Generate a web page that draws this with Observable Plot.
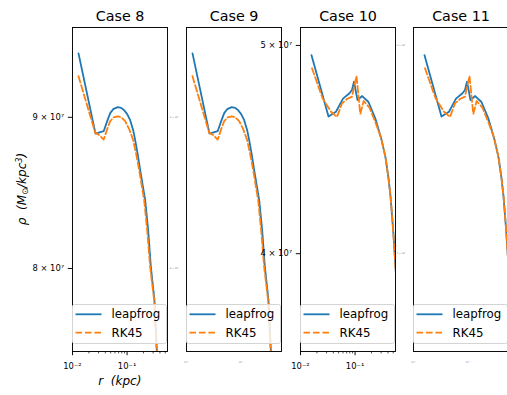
<!DOCTYPE html>
<html>
<head>
<meta charset="utf-8">
<script src="https://cdn.jsdelivr.net/npm/d3@7"></script>
<script src="https://cdn.jsdelivr.net/npm/@observablehq/plot@0.6"></script>
<style>
html, body { margin: 0; padding: 0; background: #fff; overflow: hidden; }
#fig { position: relative; width: 507px; height: 395px; overflow: hidden; font-family: "DejaVu Sans"; }
.panel { position: absolute; top: 0; width: 175px; height: 395px; }
.panel svg { max-width: none !important; }
.legend { position: absolute; top: 304px; width: 95px; height: 40px; box-sizing: border-box;
  border: 1px solid #d4d4d4; border-radius: 2.5px; background: rgba(255,255,255,0.8); }
.xlabel { position: absolute; font: italic 12px "DejaVu Sans"; white-space: pre; transform: translateX(-50%); }
.ylabel { position: absolute; font: italic 12px "DejaVu Sans"; white-space: pre; transform: translate(-50%,-50%) rotate(-90deg); }
</style>
</head>
<body>
<div id="fig"></div>
<script>
// ---- Data ----
const caseTitles = ["Case 8", "Case 9", "Case 10", "Case 11"];
const seriesNames = ["leapfrog", "RK45"];

// Case 8 (Case 9 is visually identical)
const r8Leap   = [0.01288, 0.02637, 0.03727, 0.0432, 0.04903, 0.05563, 0.06727, 0.07795, 0.0885, 0.1004, 0.114, 0.1293, 0.1407, 0.1563, 0.1738, 0.1931, 0.2146, 0.2434, 0.2729, 0.2969, 0.3176, 0.3515, 0.3792];
const rho8Leap = [9.459e7, 8.886e7, 8.903e7, 8.973e7, 9.029e7, 9.057e7, 9.071e7, 9.066e7, 9.050e7, 9.022e7, 8.980e7, 8.910e7, 8.841e7, 8.745e7, 8.637e7, 8.536e7, 8.437e7, 8.241e7, 8.008e7, 7.894e7, 7.803e7, 7.499e7, 7.302e7];
const r8Rk     = [0.01288, 0.02604, 0.03083, 0.03727, 0.0432, 0.04903, 0.05684, 0.06727, 0.07795, 0.09231, 0.1093, 0.1293, 0.1468, 0.1666, 0.1851, 0.2057, 0.2334, 0.2649, 0.2906, 0.3136, 0.3485, 0.3759];
const rho8Rk   = [9.293e7, 8.893e7, 8.876e7, 8.845e7, 8.917e7, 8.973e7, 9.000e7, 9.007e7, 9.000e7, 8.973e7, 8.917e7, 8.841e7, 8.745e7, 8.637e7, 8.536e7, 8.437e7, 8.241e7, 8.008e7, 7.894e7, 7.803e7, 7.499e7, 7.302e7];

// Case 10 (Case 11 is visually identical)
const r10Leap   = [0.01591, 0.03257, 0.04468, 0.06003, 0.07894, 0.08773, 0.09548, 0.1107, 0.1349, 0.1759, 0.2334, 0.3006, 0.3604, 0.4090, 0.4451, 0.4986, 0.5380, 0.5853];
const rho10Leap = [4.948e7, 4.633e7, 4.657e7, 4.723e7, 4.750e7, 4.767e7, 4.809e7, 4.716e7, 4.736e7, 4.706e7, 4.626e7, 4.526e7, 4.436e7, 4.337e7, 4.255e7, 4.102e7, 3.980e7, 3.846e7];
const r10Rk     = [0.01624, 0.02528, 0.03619, 0.04662, 0.05755, 0.07106, 0.08773, 0.1061, 0.1245, 0.1437, 0.1835, 0.2465, 0.2981, 0.3604, 0.4090, 0.4451, 0.4986, 0.5380, 0.5853];
const rho10Rk   = [4.879e7, 4.726e7, 4.657e7, 4.631e7, 4.699e7, 4.721e7, 4.733e7, 4.839e7, 4.646e7, 4.711e7, 4.677e7, 4.591e7, 4.530e7, 4.436e7, 4.337e7, 4.255e7, 4.102e7, 3.980e7, 3.846e7];

// Axes
const xDomain = [0.01, 0.55];
const yDomain8 = [7.499e7, 9.652e7];
const yDomain10 = [3.602e7, 5.097e7];
const xMajorTicks = [0.01, 0.1];
const xMajorLabels = ["10⁻²", "10⁻¹"];
const xMinorTicks = [0.02, 0.03, 0.04, 0.05, 0.06, 0.07, 0.08, 0.09, 0.2, 0.3, 0.4, 0.5];
const yTicks8 = [8e7, 9e7];
const yTicks8Labels = ["8 × 10⁷", "9 × 10⁷"];
const yTicks10 = [4e7, 5e7];
const yTicks10Labels = ["4 × 10⁷", "5 × 10⁷"];
const xAxisLabel = "r  (kpc)";

// ---- Build ----
const colors = ["#1f77b4", "#ff7f0e"];
const frameX = [72.3, 185.7, 300, 413.3];
const mL = 72, mR = 8, pw = 95;

const panels = [
  {title: caseTitles[0], leap: [r8Leap, rho8Leap], rk: [r8Rk, rho8Rk], yDomain: yDomain8, yTicks: yTicks8, yLabels: yTicks8Labels, full: true},
  {title: caseTitles[1], leap: [r8Leap, rho8Leap], rk: [r8Rk, rho8Rk], yDomain: yDomain8, yTicks: yTicks8, yLabels: yTicks8Labels, full: false},
  {title: caseTitles[2], leap: [r10Leap, rho10Leap], rk: [r10Rk, rho10Rk], yDomain: yDomain10, yTicks: yTicks10, yLabels: yTicks10Labels, full: true},
  {title: caseTitles[3], leap: [r10Leap, rho10Leap], rk: [r10Rk, rho10Rk], yDomain: yDomain10, yTicks: yTicks10, yLabels: yTicks10Labels, full: false}
];

const fig = document.getElementById("fig");
const toRows = ([rs, rhos]) => rs.map((r, k) => ({r, rho: rhos[k]}));

panels.forEach((p, i) => {
  const yLab = (d, k) => p.yLabels[k];
  const xLab = (d, k) => xMajorLabels[k];
  const marks = [
    Plot.line(toRows(p.leap), {x: "r", y: "rho", stroke: colors[0], strokeWidth: 1.8, clip: true}),
    Plot.line(toRows(p.rk), {x: "r", y: "rho", stroke: colors[1], strokeWidth: 1.8, strokeDasharray: "6.6,2.86", clip: true}),
    Plot.text([p.title], {text: d => d, frameAnchor: "top", lineAnchor: "bottom", dy: -6.6, fontSize: 14.3, fill: "black"})
  ];
  if (p.full) {
    marks.push(Plot.axisY(p.yTicks, {anchor: "left", tickSize: 4.2, tickFormat: () => "", label: null, strokeWidth: 0.95}));
    marks.push(Plot.text(p.yTicks, {y: d => d, text: yLab, frameAnchor: "left", textAnchor: "end", dx: -8.4, fontSize: 8.4, fill: "black"}));
    marks.push(Plot.axisX(xMajorTicks, {anchor: "bottom", tickSize: 4.2, tickFormat: () => "", label: null, strokeWidth: 0.95}));
    marks.push(Plot.axisX(xMinorTicks, {anchor: "bottom", tickSize: 2.4, tickFormat: () => "", label: null, strokeWidth: 0.7}));
    marks.push(Plot.text(xMajorTicks, {x: d => d, text: xLab, frameAnchor: "bottom", lineAnchor: "top", dy: 11.4, fontSize: 8.4, fill: "black"}));
  } else {
    marks.push(Plot.text(p.yTicks, {y: d => d, text: yLab, frameAnchor: "left", textAnchor: "end", dx: -8, fontSize: 2.3, fill: "#777"}));
    marks.push(Plot.text(xMajorTicks, {x: d => d, text: xLab, frameAnchor: "bottom", lineAnchor: "top", dy: 9.5, fontSize: 2.3, fill: "#777"}));
  }
  marks.push(Plot.frame({stroke: "black", strokeWidth: 0.95}));

  const svg = Plot.plot({
    width: mL + pw + mR, height: 395,
    marginLeft: mL, marginRight: mR, marginTop: 27, marginBottom: 44,
    x: {type: "log", domain: xDomain, axis: null, label: null},
    y: {type: "log", domain: p.yDomain, axis: null, label: null},
    style: {background: "transparent", fontFamily: "DejaVu Sans", overflow: "visible", maxWidth: "none"},
    marks
  });
  const wrap = document.createElement("div");
  wrap.className = "panel";
  wrap.style.left = (frameX[i] - mL) + "px";
  wrap.appendChild(svg);
  fig.appendChild(wrap);
});

// legends (one per panel)
panels.forEach((p, i) => {
  const leg = document.createElement("div");
  leg.className = "legend";
  leg.style.left = frameX[i] + "px";
  leg.innerHTML = `<svg width="93" height="38" style="position:absolute;left:0;top:0;overflow:visible">
    <line x1="2.5" x2="28.5" y1="9.3" y2="9.3" stroke="${colors[0]}" stroke-width="1.8"/>
    <text x="38.5" y="13.3" font-size="11.8" font-family="DejaVu Sans" fill="#000">${seriesNames[0]}</text>
    <line x1="2.5" x2="28.5" y1="27.7" y2="27.7" stroke="${colors[1]}" stroke-width="1.8" stroke-dasharray="6.6,2.86"/>
    <text x="38.5" y="31.7" font-size="11.8" font-family="DejaVu Sans" fill="#000">${seriesNames[1]}</text>
  </svg>`;
  fig.appendChild(leg);
});

// axis labels
const xl = document.createElement("div");
xl.className = "xlabel";
xl.textContent = xAxisLabel;
xl.style.left = "119.8px";
xl.style.top = "374px";
fig.appendChild(xl);

const yl = document.createElement("div");
yl.className = "ylabel";
yl.innerHTML = 'ρ  (M<span style="font-size:70%;vertical-align:-0.25em">⊙</span>/kpc<span style="font-size:70%;vertical-align:0.55em">3</span>)';
yl.style.left = "22px";
yl.style.top = "188.5px";
fig.appendChild(yl);
</script>
</body>
</html>
